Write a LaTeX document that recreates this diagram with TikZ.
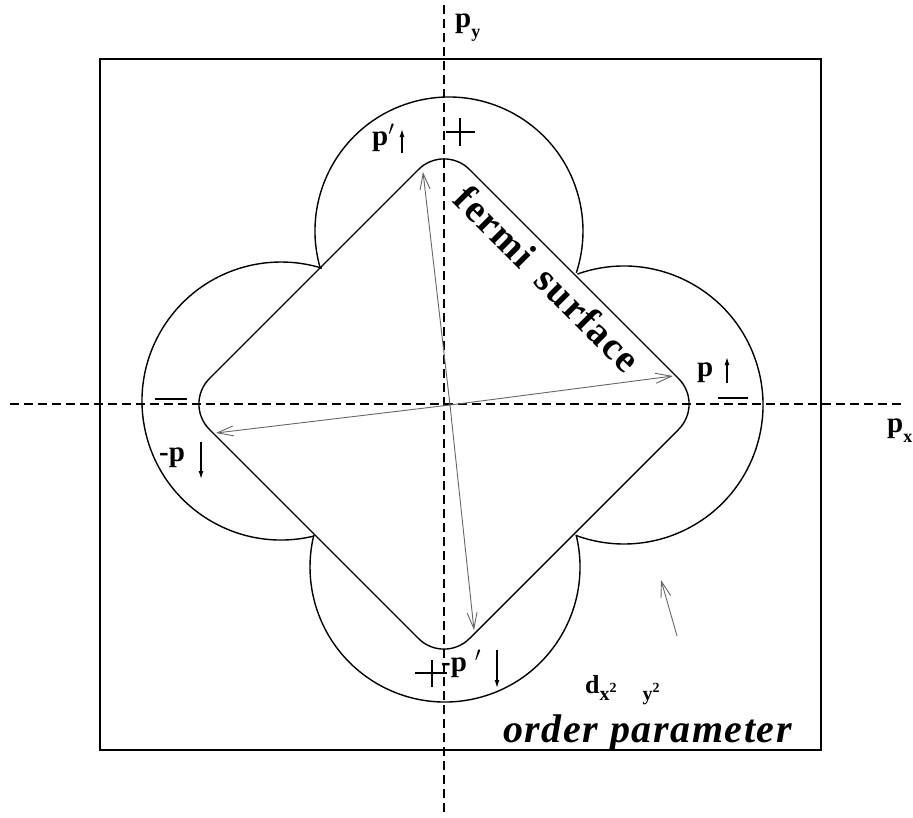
\documentclass[tikz,border=0pt]{standalone}
\usepackage{fontspec}
\setmainfont{Liberation Serif}
\newfontfamily\spfont[LetterSpace=4]{Liberation Serif}
\usetikzlibrary{arrows.meta}
\newcommand{\mysub}[1]{\raisebox{-10pt}{\fontsize{18}{18}\selectfont #1}}
\begin{document}
\begin{tikzpicture}[x=1pt,y=-1pt,
  curve/.style={line width=1.4pt, black},
  axisline/.style={line width=1.5pt, dash pattern=on 9pt off 5pt},
  mom/.style={line width=0.9pt, draw=black!60, -{Straight Barb[length=16pt,width=10pt]}},
  spin/.style={line width=1.3pt, -{Latex[length=8pt,width=5pt]}},
  signline/.style={line width=1.4pt},
  lbl/.style={inner sep=0pt, font=\fontsize{29}{29}\selectfont\bfseries},
  bigtxt/.style={inner sep=0pt, font=\fontsize{39}{39}\selectfont\spfont\bfseries},
  bigit/.style={inner sep=0pt, font=\fontsize{40}{40}\selectfont\spfont\bfseries\itshape}]
\useasboundingbox (0,0) rectangle (913,817);
% frame
\draw[line width=1.8pt] (100,59) rectangle (821,750);
% axes
\coordinate (yt) at (444,5); \coordinate (yb) at (444,815);
\coordinate (xl) at (10,404); \coordinate (xr) at (905,404);
\draw[axisline] (yt) -- (yb);
\draw[axisline] (xl) -- (xr);
% lobes (order parameter)
\draw[curve] ([shift={(163.7:134)}]449,231) arc[start angle=163.7,end angle=378.2,radius=134];
\draw[curve] ([shift={(-109.6:139)}]624,405) arc[start angle=-109.6,end angle=110.3,radius=139];
\draw[curve] ([shift={(-13.7:135)}]445,567) arc[start angle=-13.7,end angle=193.7,radius=135];
\draw[curve] ([shift={(76.2:139)}]281,401) arc[start angle=76.2,end angle=287.1,radius=139];
% fermi surface
\draw[curve, rounded corners=36pt] (574,274) -- (704,404) -- (444,664) -- (184,404) -- (444,144) -- cycle;
% momentum vectors
\coordinate (O) at (450,405);
\coordinate (kp) at (673,376);
\coordinate (kmp) at (216,433);
\coordinate (kq) at (423,172);
\coordinate (kmq) at (474,630);
\draw[mom] (O) -- (kp);
\draw[mom] (O) -- (kmp);
\draw[mom] (O) -- (kq);
\draw[mom] (O) -- (kmq);
\coordinate (ot) at (677,636); \coordinate (oh) at (661,580);
\draw[mom] (ot) -- (oh);
% signs
\draw[signline] (446,132) -- (475,132) (460,118) -- (460,146);
\draw[signline] (415,673) -- (447,673) (432,660) -- (432,687);
\draw[signline] (718,398) -- (748,398);
\draw[signline] (155,399) -- (187,399);
% labels
\node[lbl, anchor=base west] (py) at (455,27) {p\mysub{y}};
\node[lbl, anchor=base west] (px) at (887,432) {p\mysub{x}};
\node[lbl, anchor=base west] (pR) at (697,376) {p};
\node[lbl, anchor=base west] (pT) at (372,145) {p$'$};
\node[lbl, anchor=base west] (pL) at (159,461) {-p};
\node[lbl, anchor=base west] (pB) at (441,671) {-p\hspace{8pt}$'$};
% spins
\coordinate (s1a) at (727,383); \coordinate (s1b) at (727,357);
\coordinate (s2a) at (402,153); \coordinate (s2b) at (402,129);
\coordinate (s3a) at (201,442); \coordinate (s3b) at (201,479);
\coordinate (s4a) at (497,650); \coordinate (s4b) at (497,688);
\draw[spin] (s1a) -- (s1b);
\draw[spin] (s2a) -- (s2b);
\draw[spin] (s3a) -- (s3b);
\draw[spin] (s4a) -- (s4b);
% texts
\node[bigtxt, rotate=-45] (fs) at (548,279) {fermi\hspace{6pt} surface};
\node[inner sep=0pt, anchor=base west, font=\bfseries] (dl) at (585,693)
  {\fontsize{26}{26}\selectfont d\raisebox{-7pt}{\fontsize{20}{20}\selectfont x\raisebox{8pt}{\fontsize{14}{14}\selectfont 2}\hspace{26pt}y\raisebox{8pt}{\fontsize{14}{14}\selectfont 2}}};
\node[bigit, anchor=base west] (op) at (503,742) {order parameter};
\end{tikzpicture}
\end{document}
